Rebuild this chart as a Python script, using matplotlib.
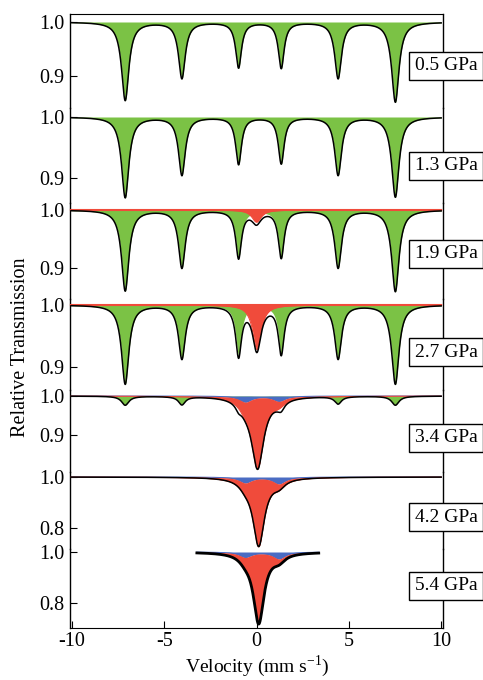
import numpy as np
import matplotlib
matplotlib.use('Agg')
import matplotlib.pyplot as plt

plt.rcParams['font.family'] = ['Liberation Serif', 'DejaVu Serif']
plt.rcParams['mathtext.fontset'] = 'custom'
plt.rcParams['mathtext.rm'] = 'Liberation Serif'

# pressures shown in the boxes, top to bottom
pressures = ['0.5 GPa', '1.3 GPa', '1.9 GPa', '2.7 GPa', '3.4 GPa', '4.2 GPa', '5.4 GPa']

# sextet (green) line positions and widths (mm/s), depths per panel
sextet_pos = [-7.11, -4.04, -0.97, 1.34, 4.42, 7.52]
sextet_fwhm = [0.48, 0.44, 0.38, 0.38, 0.44, 0.48]
green_depths = [
    [0.145, 0.104, 0.084, 0.085, 0.104, 0.148],
    [0.132, 0.095, 0.077, 0.076, 0.095, 0.131],
    [0.140, 0.100, 0.082, 0.082, 0.100, 0.141],
    [0.128, 0.087, 0.080, 0.078, 0.087, 0.128],
    [0.023, 0.021, 0.013, 0.012, 0.019, 0.023],
    [0, 0, 0, 0, 0, 0],
    [0, 0, 0, 0, 0, 0],
]

# singlet (red)
red_center = [0.0, 0.0, 0.0, 0.02, 0.06, 0.12, 0.12]
red_depth = [0, 0, 0.021, 0.072, 0.182, 0.265, 0.275]
red_fwhm = [0.6, 0.6, 0.6, 0.55, 0.8, 0.75, 0.7]

# doublet (blue)
blue_pos = [-0.6, 1.22]
blue_fwhm = 0.8
blue_depths = [[0, 0], [0, 0], [0, 0], [0, 0],
               [0.015, 0.013], [0.022, 0.026], [0.020, 0.026]]

# velocity range measured in each panel
v_lo = [-10.05, -10.05, -10.05, -10.05, -10.05, -10.05, -3.23]
v_hi = [10.0, 10.0, 10.0, 10.0, 10.0, 10.0, 3.37]

yticks = [[0.9, 1.0]] * 5 + [[0.8, 1.0]] * 2

# layout in pixels: y of 1.0, pixels per unit, band top, band bottom
y_one = [22, 117, 210, 305, 396, 477, 552]
ppu = [540, 610, 577, 617, 390, 255, 255]
band_top = [14, 108, 203, 299, 390, 472, 549]
band_bot = [108, 203, 299, 390, 472, 549, 628]
box_y = [66, 166, 254, 352, 438, 517, 586]

GREEN = '#7bc245'
RED = '#f04b3b'
BLUE = '#4a6cc3'

W, H = 483, 680
fig = plt.figure(figsize=(W / 100, H / 100), dpi=100)
left, right = 70, 443


def lor(v, x0, d, fwhm):
    g = fwhm / 2
    return d * g**2 / ((v - x0)**2 + g**2)


for i in range(7):
    ax = fig.add_axes([left / W, 1 - band_bot[i] / H, (right - left) / W,
                       (band_bot[i] - band_top[i]) / H])
    ax.patch.set_alpha(0)
    ax.set_xlim(-10.1, 10.1)
    ax.set_ylim(1 - (band_bot[i] - y_one[i]) / ppu[i],
                1 + (y_one[i] - band_top[i]) / ppu[i])

    v = np.linspace(v_lo[i], v_hi[i], 2000)
    G = sum(lor(v, p, d, w) for p, d, w in zip(sextet_pos, green_depths[i], sextet_fwhm))
    B = sum(lor(v, p, d, blue_fwhm) for p, d in zip(blue_pos, blue_depths[i]))
    R = lor(v, red_center[i], red_depth[i], red_fwhm[i])

    if max(green_depths[i]) > 0:
        ax.fill_between(v, 1, 1 - G, color=GREEN, lw=0, clip_on=False, zorder=1)
    if max(blue_depths[i]) > 0:
        ax.fill_between(v, 1, 1 - B, color=BLUE, lw=0, clip_on=False, zorder=2)
        ax.plot(v, 1 - B, color=BLUE, lw=0.8, clip_on=False, zorder=2)
    if red_depth[i] > 0:
        ax.fill_between(v, 1 - B, 1 - B - R, color=RED, lw=0, clip_on=False, zorder=3)
        ax.plot(v, 1 - B - R, color=RED, lw=0.8, clip_on=False, zorder=3)
        if max(blue_depths[i]) == 0:
            ax.plot(v, np.ones_like(v), color=RED, lw=1.5, clip_on=False, zorder=3)

    total = 1 - G - B - R
    ax.plot(v, total, color='black', lw=2.0 if i == 6 else 1.1,
            clip_on=False, zorder=4)

    for s in ['top', 'bottom']:
        ax.spines[s].set_visible(False)
    ax.spines['left'].set_linewidth(1.0)
    ax.spines['right'].set_linewidth(1.0)
    ax.set_yticks(yticks[i])
    ax.set_yticklabels(['%.1f' % t for t in yticks[i]])
    ax.tick_params(axis='y', direction='in', length=5, pad=4, labelsize=14.5,
                   right=False)
    if i == 0:
        ax.spines['top'].set_visible(True)
    if i == 6:
        ax.spines['bottom'].set_visible(True)
        ax.set_xticks([-10, -5, 0, 5, 10])
        ax.set_xticklabels(['-10', '-5', '0', '5', '10'])
        ax.tick_params(axis='x', direction='in', length=5, pad=3, labelsize=14.5)
    else:
        ax.set_xticks([])

    fig.text(446 / W, 1 - box_y[i] / H, pressures[i], ha='center', va='center',
             fontsize=14, zorder=10,
             bbox=dict(boxstyle='square,pad=0.3', fc='white', ec='black', lw=1.0))

fig.text(21 / W, 1 - 347 / H, 'Relative Transmission', rotation=90,
         ha='center', va='center', fontsize=14.5)
fig.text(257 / W, 1 - 666 / H, 'Velocity (mm s$^{\\mathregular{-1}}$)', ha='center',
         va='center', fontsize=14)

fig.savefig('out.png', dpi=100, facecolor='white')
